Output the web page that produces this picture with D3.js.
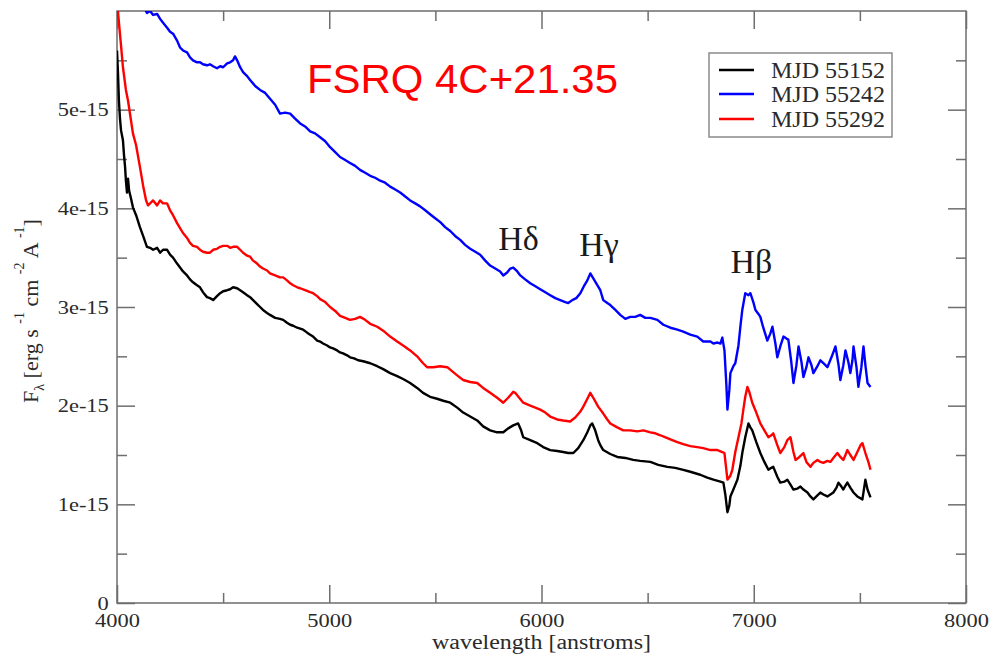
<!DOCTYPE html>
<html>
<head>
<meta charset="utf-8">
<script src="https://cdn.jsdelivr.net/npm/d3@7"></script>
<style>
  html, body { margin: 0; padding: 0; background: #fff; }
  svg { display: block; }
  .serif { font-family: "Liberation Serif", "DejaVu Serif", serif; }
  .tick text { font-family: "Liberation Serif", "DejaVu Serif", serif; font-size: 19px; fill: #2a2a2a; }
</style>
</head>
<body>
<svg id="chart" width="990" height="659"></svg>
<script>
// Axis ticks (flux in units of 1e-15 erg s^-1 cm^-2 A^-1)
const xMajorTicks = [4000, 5000, 6000, 7000, 8000];
const xMinorTicks = [4500, 5500, 6500, 7500];
const yMajorTicks = [0, 1, 2, 3, 4, 5];
const yMinorTicks = [0.5, 1.5, 2.5, 3.5, 4.5, 5.5];
const yTickLabels = ["0", "1e-15", "2e-15", "3e-15", "4e-15", "5e-15"];

const seriesNames = ["MJD 55152", "MJD 55242", "MJD 55292"];
const seriesColors = ["#000000", "#0000ff", "#ff0000"];

// [wavelength (A), flux (1e-15)]
const mjd55152 = [[4000,5.60],[4005,5.35],[4009,5.09],[4014,4.91],[4019,4.79],[4028,4.69],[4033,4.54],[4038,4.42],[4042,4.28],[4047,4.16],[4052,4.30],[4057,4.18],[4066,4.10],[4075,4.01],[4090,3.93],[4108,3.81],[4123,3.72],[4141,3.61],[4156,3.60],[4170,3.58],[4189,3.60],[4203,3.55],[4217,3.58],[4236,3.58],[4250,3.53],[4264,3.50],[4283,3.44],[4297,3.40],[4311,3.36],[4330,3.32],[4344,3.28],[4358,3.25],[4377,3.22],[4391,3.20],[4405,3.15],[4424,3.10],[4438,3.09],[4453,3.07],[4471,3.11],[4486,3.14],[4500,3.16],[4519,3.17],[4533,3.18],[4547,3.20],[4566,3.19],[4580,3.17],[4594,3.15],[4613,3.12],[4627,3.10],[4641,3.07],[4660,3.03],[4674,3.00],[4688,2.97],[4707,2.94],[4721,2.92],[4745,2.89],[4768,2.88],[4783,2.87],[4801,2.84],[4816,2.82],[4830,2.81],[4849,2.79],[4863,2.78],[4877,2.77],[4896,2.74],[4910,2.72],[4924,2.70],[4943,2.66],[4957,2.65],[4971,2.63],[4990,2.61],[5004,2.59],[5018,2.58],[5037,2.56],[5051,2.54],[5065,2.53],[5084,2.51],[5098,2.49],[5117,2.48],[5136,2.46],[5160,2.45],[5193,2.43],[5226,2.40],[5254,2.37],[5287,2.33],[5320,2.30],[5348,2.27],[5381,2.23],[5414,2.18],[5442,2.13],[5475,2.09],[5508,2.07],[5537,2.05],[5570,2.03],[5603,1.98],[5631,1.93],[5664,1.89],[5697,1.85],[5725,1.79],[5758,1.75],[5791,1.73],[5820,1.73],[5843,1.77],[5867,1.80],[5890,1.82],[5904,1.75],[5914,1.68],[5947,1.65],[5980,1.62],[6008,1.58],[6041,1.55],[6074,1.54],[6102,1.53],[6126,1.52],[6150,1.52],[6173,1.57],[6197,1.65],[6216,1.73],[6230,1.80],[6239,1.82],[6253,1.75],[6267,1.65],[6277,1.60],[6291,1.55],[6324,1.51],[6357,1.48],[6395,1.47],[6432,1.45],[6465,1.44],[6513,1.43],[6550,1.40],[6593,1.38],[6630,1.37],[6668,1.35],[6701,1.33],[6748,1.30],[6781,1.27],[6810,1.25],[6843,1.23],[6857,1.22],[6866,1.10],[6876,0.92],[6885,0.99],[6890,1.08],[6904,1.15],[6923,1.25],[6937,1.39],[6946,1.52],[6960,1.68],[6975,1.82],[6984,1.78],[6993,1.75],[7012,1.63],[7031,1.52],[7050,1.43],[7069,1.35],[7083,1.37],[7092,1.38],[7111,1.28],[7125,1.22],[7144,1.23],[7158,1.25],[7173,1.20],[7187,1.15],[7206,1.16],[7220,1.18],[7234,1.15],[7253,1.12],[7267,1.08],[7281,1.05],[7300,1.09],[7314,1.12],[7328,1.10],[7347,1.08],[7361,1.10],[7375,1.12],[7390,1.17],[7399,1.22],[7413,1.18],[7422,1.15],[7432,1.19],[7441,1.22],[7455,1.17],[7470,1.12],[7488,1.08],[7512,1.05],[7526,1.25],[7536,1.15],[7550,1.07]];

const mjd55242 = [[4061,6.41],[4132,6.02],[4141,5.98],[4156,6.00],[4170,5.96],[4189,5.97],[4203,5.92],[4217,5.88],[4236,5.83],[4250,5.79],[4264,5.77],[4283,5.70],[4297,5.63],[4311,5.60],[4330,5.58],[4344,5.53],[4358,5.50],[4377,5.48],[4391,5.48],[4405,5.46],[4424,5.45],[4438,5.46],[4453,5.44],[4471,5.42],[4486,5.44],[4500,5.43],[4519,5.47],[4533,5.48],[4547,5.50],[4556,5.54],[4566,5.50],[4580,5.43],[4594,5.38],[4613,5.34],[4627,5.30],[4651,5.24],[4674,5.20],[4698,5.17],[4721,5.11],[4745,5.05],[4768,4.96],[4792,4.97],[4816,4.96],[4839,4.91],[4863,4.86],[4886,4.83],[4910,4.78],[4933,4.76],[4957,4.72],[4981,4.68],[5004,4.62],[5028,4.57],[5051,4.52],[5075,4.49],[5098,4.46],[5122,4.43],[5145,4.39],[5169,4.36],[5193,4.33],[5216,4.31],[5240,4.28],[5263,4.26],[5287,4.22],[5311,4.19],[5334,4.16],[5358,4.12],[5381,4.08],[5405,4.05],[5428,4.02],[5452,3.98],[5475,3.94],[5499,3.90],[5523,3.86],[5546,3.81],[5570,3.77],[5593,3.72],[5617,3.68],[5640,3.63],[5664,3.59],[5688,3.56],[5711,3.53],[5735,3.47],[5758,3.42],[5782,3.39],[5805,3.36],[5820,3.32],[5838,3.35],[5853,3.39],[5867,3.40],[5886,3.36],[5900,3.32],[5923,3.28],[5947,3.24],[5971,3.21],[5994,3.18],[6018,3.15],[6041,3.12],[6065,3.09],[6088,3.07],[6112,3.05],[6126,3.04],[6145,3.07],[6164,3.09],[6183,3.14],[6202,3.22],[6216,3.27],[6230,3.34],[6244,3.29],[6258,3.24],[6277,3.17],[6291,3.07],[6310,3.04],[6324,3.02],[6348,2.97],[6371,2.92],[6395,2.88],[6418,2.90],[6442,2.90],[6465,2.92],[6489,2.89],[6513,2.89],[6546,2.87],[6574,2.82],[6607,2.79],[6640,2.77],[6668,2.75],[6701,2.72],[6734,2.70],[6762,2.65],[6796,2.65],[6810,2.63],[6829,2.64],[6843,2.63],[6852,2.69],[6862,2.56],[6871,2.21],[6876,1.96],[6885,2.16],[6890,2.33],[6904,2.40],[6913,2.43],[6928,2.61],[6937,2.80],[6946,2.97],[6960,3.14],[6975,3.12],[6984,3.14],[6998,3.05],[7008,2.97],[7022,2.93],[7031,2.90],[7045,2.79],[7064,2.66],[7078,2.73],[7088,2.80],[7102,2.63],[7111,2.49],[7125,2.60],[7140,2.70],[7154,2.68],[7163,2.67],[7177,2.44],[7187,2.23],[7201,2.41],[7211,2.60],[7225,2.44],[7234,2.29],[7248,2.39],[7258,2.49],[7272,2.41],[7281,2.33],[7300,2.40],[7314,2.46],[7333,2.42],[7347,2.39],[7366,2.49],[7385,2.60],[7399,2.42],[7408,2.26],[7422,2.41],[7432,2.56],[7446,2.44],[7455,2.33],[7465,2.46],[7470,2.60],[7484,2.39],[7493,2.19],[7507,2.39],[7517,2.60],[7526,2.41],[7536,2.23],[7550,2.19]];

const mjd55292 = [[4000,6.31],[4005,5.98],[4019,5.65],[4028,5.43],[4042,5.20],[4052,5.09],[4066,4.89],[4075,4.76],[4090,4.64],[4108,4.42],[4123,4.23],[4137,4.08],[4146,4.03],[4156,4.05],[4170,4.08],[4189,4.03],[4203,4.08],[4217,4.05],[4236,4.05],[4250,3.98],[4264,3.93],[4283,3.85],[4297,3.80],[4311,3.75],[4330,3.70],[4344,3.65],[4358,3.62],[4377,3.61],[4391,3.58],[4405,3.56],[4424,3.55],[4438,3.55],[4453,3.58],[4471,3.59],[4486,3.61],[4500,3.62],[4519,3.62],[4533,3.60],[4547,3.61],[4566,3.61],[4580,3.58],[4594,3.55],[4613,3.52],[4627,3.51],[4641,3.47],[4660,3.44],[4674,3.41],[4688,3.39],[4707,3.37],[4721,3.34],[4745,3.32],[4768,3.30],[4783,3.30],[4801,3.27],[4816,3.24],[4830,3.22],[4849,3.20],[4863,3.19],[4886,3.17],[4910,3.15],[4924,3.14],[4943,3.11],[4957,3.08],[4981,3.05],[5004,3.00],[5028,2.96],[5051,2.91],[5075,2.89],[5098,2.87],[5122,2.88],[5145,2.90],[5169,2.87],[5193,2.83],[5226,2.80],[5254,2.76],[5287,2.70],[5320,2.65],[5348,2.61],[5381,2.56],[5414,2.50],[5442,2.43],[5461,2.39],[5490,2.39],[5523,2.40],[5556,2.39],[5584,2.34],[5607,2.30],[5631,2.26],[5664,2.24],[5697,2.23],[5725,2.18],[5758,2.13],[5791,2.08],[5820,2.03],[5843,2.08],[5867,2.14],[5876,2.13],[5895,2.08],[5914,2.03],[5947,2.00],[5971,1.98],[5994,1.96],[6018,1.93],[6041,1.89],[6074,1.86],[6102,1.85],[6135,1.84],[6159,1.88],[6183,1.94],[6197,1.99],[6216,2.07],[6230,2.13],[6244,2.08],[6267,1.99],[6291,1.92],[6310,1.86],[6324,1.82],[6357,1.78],[6385,1.75],[6418,1.75],[6451,1.74],[6480,1.75],[6513,1.73],[6536,1.72],[6560,1.70],[6593,1.67],[6616,1.65],[6640,1.63],[6668,1.61],[6701,1.59],[6734,1.58],[6762,1.57],[6796,1.55],[6829,1.55],[6852,1.53],[6862,1.52],[6876,1.25],[6890,1.29],[6899,1.35],[6913,1.53],[6928,1.68],[6942,1.82],[6951,1.96],[6960,2.09],[6970,2.19],[6979,2.14],[6993,2.03],[7012,1.93],[7031,1.82],[7050,1.75],[7069,1.68],[7083,1.70],[7092,1.72],[7111,1.60],[7125,1.52],[7144,1.58],[7158,1.65],[7173,1.68],[7187,1.53],[7197,1.45],[7215,1.48],[7234,1.52],[7248,1.43],[7267,1.38],[7281,1.42],[7300,1.45],[7314,1.43],[7328,1.42],[7347,1.44],[7361,1.43],[7375,1.47],[7394,1.52],[7408,1.48],[7422,1.45],[7432,1.50],[7441,1.55],[7455,1.50],[7470,1.45],[7488,1.53],[7503,1.60],[7512,1.62],[7526,1.52],[7540,1.43],[7550,1.35]];

const spectra = [mjd55152, mjd55242, mjd55292];

// Balmer line annotations: label, wavelength and flux at the start of the text baseline
const lineLabels = ["H\u03B4", "H\u03B3", "H\u03B2"];
const lineLabelWl = [5796, 6178, 6890];
const lineLabelFlux = [3.58, 3.52, 3.34];

const svg = d3.select("#chart");
const W = 990, H = 659;
const margin = { left: 117, right: 24, top: 11, bottom: 56 };
const plotW = W - margin.left - margin.right;
const plotH = H - margin.top - margin.bottom;

const x = d3.scaleLinear().domain([4000, 8000]).range([margin.left, margin.left + plotW]);
const y = d3.scaleLinear().domain([0, 6]).range([margin.top + plotH, margin.top]);

svg.append("defs").append("clipPath").attr("id", "plotclip")
  .append("rect").attr("x", margin.left).attr("y", margin.top)
  .attr("width", plotW).attr("height", plotH);

const axisColor = "#6e6e6e";
const textColor = "#2a2a2a";
const majorLen = 18, minorLen = 10;

// the tick labels are set slightly wide
function styleAxis(g) {
  g.attr("font-family", null).attr("font-size", null);
  g.select(".domain").remove();
  g.selectAll(".tick line").attr("stroke", axisColor).attr("stroke-width", 1.5);
  g.selectAll(".tick text").attr("fill", textColor).attr("transform", "scale(1.18,1)");
}

// bottom axis
svg.append("g").attr("transform", `translate(0,${y(0)})`)
  .call(d3.axisBottom(x).tickValues(xMajorTicks).tickSizeInner(-majorLen).tickSizeOuter(0).tickPadding(11).tickFormat(d3.format("d")))
  .call(styleAxis);
svg.append("g").attr("transform", `translate(0,${y(0)})`)
  .call(d3.axisBottom(x).tickValues(xMinorTicks).tickSizeInner(-minorLen).tickSizeOuter(0).tickFormat(""))
  .call(styleAxis);
// top axis
svg.append("g").attr("transform", `translate(0,${y(6)})`)
  .call(d3.axisTop(x).tickValues(xMajorTicks).tickSizeInner(-majorLen).tickSizeOuter(0).tickFormat(""))
  .call(styleAxis);
svg.append("g").attr("transform", `translate(0,${y(6)})`)
  .call(d3.axisTop(x).tickValues(xMinorTicks).tickSizeInner(-minorLen).tickSizeOuter(0).tickFormat(""))
  .call(styleAxis);
// left axis
svg.append("g").attr("transform", `translate(${x(4000)},0)`)
  .call(d3.axisLeft(y).tickValues(yMajorTicks).tickSizeInner(-majorLen).tickSizeOuter(0).tickPadding(7)
    .tickFormat((d, i) => yTickLabels[i]))
  .call(styleAxis);
svg.append("g").attr("transform", `translate(${x(4000)},0)`)
  .call(d3.axisLeft(y).tickValues(yMinorTicks).tickSizeInner(-minorLen).tickSizeOuter(0).tickFormat(""))
  .call(styleAxis);
// right axis
svg.append("g").attr("transform", `translate(${x(8000)},0)`)
  .call(d3.axisRight(y).tickValues(yMajorTicks).tickSizeInner(-majorLen).tickSizeOuter(0).tickFormat(""))
  .call(styleAxis);
svg.append("g").attr("transform", `translate(${x(8000)},0)`)
  .call(d3.axisRight(y).tickValues(yMinorTicks).tickSizeInner(-minorLen).tickSizeOuter(0).tickFormat(""))
  .call(styleAxis);

// frame
svg.append("rect")
  .attr("x", x(4000)).attr("y", y(6))
  .attr("width", x(8000) - x(4000)).attr("height", y(0) - y(6))
  .attr("fill", "none").attr("stroke", axisColor).attr("stroke-width", 1.5);

// spectra
const line = d3.line().x(d => x(d[0])).y(d => y(d[1]));
const curves = svg.append("g").attr("clip-path", "url(#plotclip)");
// draw order: red, blue, black on top
[2, 1, 0].forEach(i => {
  curves.append("path").datum(spectra[i])
    .attr("d", line)
    .attr("fill", "none")
    .attr("stroke", seriesColors[i])
    .attr("stroke-width", 2.4)
    .attr("stroke-linejoin", "round");
});

// Balmer line labels
lineLabels.forEach((t, i) => {
  svg.append("text").attr("class", "serif")
    .attr("x", x(lineLabelWl[i])).attr("y", y(lineLabelFlux[i]))
    .attr("font-size", 34).attr("fill", "#1a1a1a")
    .text(t);
});

// title
svg.append("text")
  .attr("x", 307).attr("y", 93)
  .attr("font-family", "Liberation Sans, Arial, sans-serif")
  .attr("font-size", 40).attr("fill", "#ff0000")
  .attr("textLength", 311).attr("lengthAdjust", "spacingAndGlyphs")
  .text("FSRQ 4C+21.35");

// legend
const lg = svg.append("g");
lg.append("rect").attr("x", 709).attr("y", 53).attr("width", 183).attr("height", 84)
  .attr("fill", "#fff").attr("stroke", "#8a8a8a").attr("stroke-width", 1.5);
const lineY = [70, 94, 119];
const textY = [78, 102, 127];
seriesNames.forEach((n, i) => {
  lg.append("line").attr("x1", 719).attr("x2", 754).attr("y1", lineY[i]).attr("y2", lineY[i])
    .attr("stroke", seriesColors[i]).attr("stroke-width", 2.5);
  lg.append("text").attr("class", "serif").attr("x", 771).attr("y", textY[i])
    .attr("font-size", 24).attr("fill", textColor).text(n);
});

// x-axis title
svg.append("text").attr("class", "serif")
  .attr("x", x(6000)).attr("y", 649).attr("text-anchor", "middle")
  .attr("font-size", 20).attr("fill", textColor)
  .attr("textLength", 219).attr("lengthAdjust", "spacingAndGlyphs")
  .text("wavelength [anstroms]");

// y-axis title with sub/superscripts
const yt = svg.append("text").attr("class", "serif")
  .attr("transform", "translate(38,311) rotate(-90)")
  .attr("text-anchor", "middle").attr("font-size", 22).attr("fill", textColor);
yt.append("tspan").text("F");
yt.append("tspan").attr("dy", 6).attr("font-size", 14).text("\u03BB");
yt.append("tspan").attr("dy", -6).text(" [erg s ");
yt.append("tspan").attr("dy", -14).attr("font-size", 14).text("-1");
yt.append("tspan").attr("dy", 14).text(" cm ");
yt.append("tspan").attr("dy", -14).attr("font-size", 14).text("-2");
yt.append("tspan").attr("dy", 14).text(" A ");
yt.append("tspan").attr("dy", -14).attr("font-size", 14).text("-1");
yt.append("tspan").attr("dy", 14).text("]");
</script>
</body>
</html>
